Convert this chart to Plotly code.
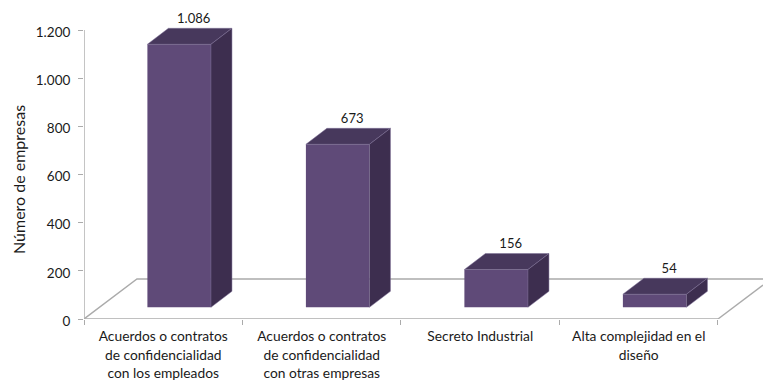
import plotly.graph_objects as go

categories = [
    "Acuerdos o contratos<br>de confidencialidad<br>con los empleados",
    "Acuerdos o contratos<br>de confidencialidad<br>con otras empresas",
    "Secreto Industrial",
    "Alta complejidad en el<br>diseño",
]
values = [1086, 673, 156, 54]
value_labels = ["1.086", "673", "156", "54"]
y_ticks = [0, 200, 400, 600, 800, 1000, 1200]
y_tick_labels = ["0", "200", "400", "600", "800", "1.000", "1.200"]
y_title = "Número de empresas"

W, H = 763, 381
FONT = "Lato"
TEXT = "#1a1a1a"
AXIS = "#ababab"
FRONT, TOP, SIDE = "#5f4a78", "#47385c", "#3d2e4f"
EDGE = "#7d6f96"
CAT_SIZE = 13.8

n = len(categories)
centers = list(range(n))
boundaries = [i - 0.5 for i in range(n + 1)]

# Oblique-projection constants, in data units of each axis
BAR_START, BAR_WIDTH = -0.1, 0.401
DEPTH_X, DEPTH_Y = 0.1325, 66
LABEL_LIFT = 8
X_MAX = 3.784
Y_MAX = 1324.6
BAR_FLOOR, BAR_TOP = -48.3, 1268.8
FLOOR_X, FLOOR_Y = 0.334, 166
Y_AXIS_TOP = 1200

fig = go.Figure()

# Axis lines and floor of the 3-D box (main subplot, beneath the bars)
xl, xr = -0.5, n - 0.5
fig.add_trace(go.Scatter(
    x=[xl, xl, None, xl, xr, None, xl, xl + FLOOR_X, X_MAX, None,
       xr, X_MAX],
    y=[Y_AXIS_TOP, 0, None, 0, 0, None, 0, FLOOR_Y, FLOOR_Y, None,
       0, FLOOR_Y * (X_MAX - xr) / FLOOR_X],
    mode="lines", line=dict(color=AXIS, width=1.4), cliponaxis=False,
    hoverinfo="skip", showlegend=False, xaxis="x", yaxis="y",
))

# Front faces
fig.add_trace(go.Bar(
    x=centers, y=values, width=BAR_WIDTH, offset=BAR_START,
    marker=dict(color=FRONT, line=dict(width=0)),
    showlegend=False, xaxis="x2", yaxis="y2",
))

# Top and side faces, derived from the values
for i, v in zip(centers, values):
    x0 = i + BAR_START
    x1 = x0 + BAR_WIDTH
    fig.add_trace(go.Scatter(
        x=[x0, x0 + DEPTH_X, x1 + DEPTH_X, x1, x0],
        y=[v, v + DEPTH_Y, v + DEPTH_Y, v, v],
        mode="lines", fill="toself", fillcolor=TOP,
        line=dict(color=EDGE, width=0.5), hoverinfo="skip",
        showlegend=False, xaxis="x2", yaxis="y2",
    ))
    fig.add_trace(go.Scatter(
        x=[x1, x1 + DEPTH_X, x1 + DEPTH_X, x1, x1],
        y=[v, v + DEPTH_Y, DEPTH_Y, 0, v],
        mode="lines", fill="toself", fillcolor=SIDE,
        line=dict(color=EDGE, width=0.5), hoverinfo="skip",
        showlegend=False, xaxis="x2", yaxis="y2",
    ))

# Value labels
fig.add_trace(go.Scatter(
    x=[i + 0.192 for i in centers],
    y=[v + DEPTH_Y + LABEL_LIFT for v in values],
    text=value_labels, mode="text", textposition="top center",
    textfont=dict(family=FONT, size=13, color=TEXT), cliponaxis=False,
    hoverinfo="skip", showlegend=False, xaxis="x2", yaxis="y2",
))

span = f'<span style="font-size:{CAT_SIZE}px">'
cat_labels = [span + c.replace("<br>", "</span><br>" + span) + "</span>" for c in categories]

fig.update_layout(
    width=W, height=H,
    margin=dict(l=84, r=0, t=0, b=62, autoexpand=False),
    paper_bgcolor="white", plot_bgcolor="white",
    font=dict(family=FONT, size=13, color=TEXT),
    xaxis=dict(
        range=[xl, X_MAX], tickmode="array", tickvals=boundaries,
        ticktext=[""] * (n + 1), ticks="outside", ticklen=5, tickwidth=1.3,
        tickcolor=AXIS, showline=False, showgrid=False, zeroline=False,
    ),
    yaxis=dict(
        range=[0, Y_MAX], tickmode="array", tickvals=y_ticks,
        ticktext=y_tick_labels, ticks="outside", ticklen=5, tickwidth=1.3,
        tickcolor=AXIS, showline=False, showgrid=False, zeroline=False,
        tickfont=dict(family=FONT, size=13.5, color=TEXT),
        ticklabelstandoff=5, ticklabelshift=2,
    ),
    xaxis2=dict(
        overlaying="x", range=[xl, X_MAX], tickmode="array",
        tickvals=centers, ticktext=cat_labels, ticks="", showline=False,
        showgrid=False, zeroline=False, anchor="y2", side="bottom",
        tickangle=0, ticklabelstandoff=7,
        tickfont=dict(family=FONT, size=14.2, color=TEXT),
    ),
    yaxis2=dict(
        overlaying="y", range=[BAR_FLOOR, BAR_TOP], visible=False,
        anchor="x2",
    ),
    annotations=[dict(
        text=y_title, xref="paper", yref="paper", x=-0.0972, y=0.4357,
        xanchor="center", yanchor="middle", textangle=-90, showarrow=False,
        font=dict(family=FONT, size=16, color=TEXT),
    )],
)

fig.write_html(
    "out.html", config={"displayModeBar": False},
    post_script="document.body.style.margin='0';document.body.style.overflow='hidden';",
)
